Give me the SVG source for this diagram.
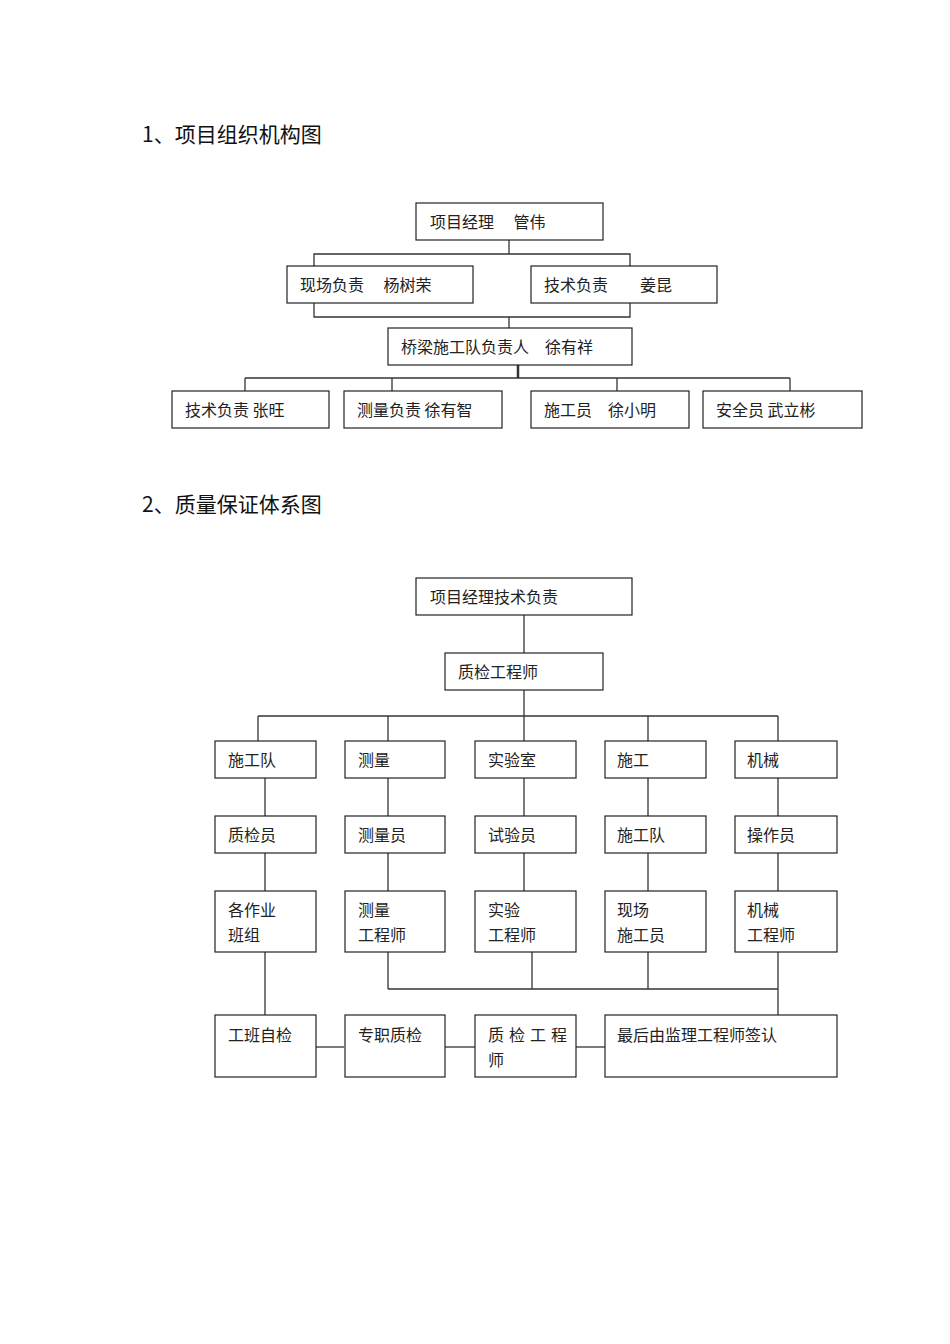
<svg xmlns="http://www.w3.org/2000/svg" width="950" height="1344" viewBox="0 0 950 1344">
<style>
text{font-family:"Noto Sans CJK SC","Liberation Serif",serif;font-size:16px;fill:#222}
.t{font-size:21px;fill:#111}
rect{fill:#fff;stroke:#222;stroke-width:1.2}
.c line,.c polyline{stroke:#333;stroke-width:1.3;fill:none}
</style>
<rect x="0" y="0" width="950" height="1344" style="stroke:none"/>
<text class="t" x="142" y="142">1、项目组织机构图</text>
<text class="t" x="142" y="512">2、质量保证体系图</text>
<g class="c">
<line x1="509" y1="240" x2="509" y2="254"/><polyline points="314,266 314,254 630,254 630,266"/>
<polyline points="314,303 314,317 630,317 630,303"/><line x1="509" y1="317" x2="509" y2="328"/>
<line x1="518" y1="365" x2="518" y2="378" style="stroke-width:2.5"/>
<line x1="245" y1="378" x2="790" y2="378"/>
<line x1="245" y1="378" x2="245" y2="391"/><line x1="392" y1="378" x2="392" y2="391"/><line x1="617" y1="378" x2="617" y2="391"/><line x1="790" y1="378" x2="790" y2="391"/>
<line x1="524" y1="615" x2="524" y2="653"/><line x1="524" y1="690" x2="524" y2="716"/>
<line x1="258" y1="716" x2="778" y2="716"/>
<line x1="258" y1="716" x2="258" y2="741"/><line x1="388" y1="716" x2="388" y2="741"/><line x1="524" y1="716" x2="524" y2="741"/><line x1="648" y1="716" x2="648" y2="741"/><line x1="778" y1="716" x2="778" y2="741"/>
<line x1="265" y1="778" x2="265" y2="816"/><line x1="388" y1="778" x2="388" y2="816"/><line x1="524" y1="778" x2="524" y2="816"/><line x1="648" y1="778" x2="648" y2="816"/><line x1="778" y1="778" x2="778" y2="816"/>
<line x1="265" y1="853" x2="265" y2="891"/><line x1="388" y1="853" x2="388" y2="891"/><line x1="524" y1="853" x2="524" y2="891"/><line x1="648" y1="853" x2="648" y2="891"/><line x1="778" y1="853" x2="778" y2="891"/>
<line x1="265" y1="952" x2="265" y2="1015"/>
<line x1="388" y1="952" x2="388" y2="989"/><line x1="532" y1="952" x2="532" y2="989"/><line x1="648" y1="952" x2="648" y2="989"/>
<line x1="388" y1="989" x2="778" y2="989"/><line x1="778" y1="952" x2="778" y2="1015"/>
<line x1="315" y1="1047" x2="344" y2="1047"/><line x1="445" y1="1047" x2="475" y2="1047"/><line x1="576" y1="1047" x2="605" y2="1047"/>
</g>
<g id="n1"><rect x="416" y="203" width="187" height="37"/><text x="430" y="228">项目经理　 管伟</text></g>
<g id="n2"><rect x="287" y="266" width="186" height="37"/><text x="300" y="291">现场负责　 杨树荣</text></g>
<g id="n3"><rect x="531" y="266" width="186" height="37"/><text x="544" y="291">技术负责　　姜昆</text></g>
<g id="n4"><rect x="388" y="328" width="244" height="37"/><text x="401" y="353">桥梁施工队负责人　徐有祥</text></g>
<g id="n5"><rect x="172" y="391" width="157" height="37"/><text x="185" y="416">技术负责 张旺</text></g>
<g id="n6"><rect x="344" y="391" width="158" height="37"/><text x="357" y="416">测量负责 徐有智</text></g>
<g id="n7"><rect x="531" y="391" width="158" height="37"/><text x="544" y="416">施工员　徐小明</text></g>
<g id="n8"><rect x="703" y="391" width="159" height="37"/><text x="716" y="416">安全员 武立彬</text></g>
<g id="q1"><rect x="416" y="578" width="216" height="37"/><text x="430" y="603">项目经理技术负责</text></g>
<g id="q2"><rect x="445" y="653" width="158" height="37"/><text x="458" y="678">质检工程师</text></g>
<g id="r1a"><rect x="215" y="741" width="101" height="37"/><text x="228" y="766">施工队</text></g>
<g id="r1b"><rect x="345" y="741" width="100" height="37"/><text x="358" y="766">测量</text></g>
<g id="r1c"><rect x="475" y="741" width="101" height="37"/><text x="488" y="766">实验室</text></g>
<g id="r1d"><rect x="605" y="741" width="101" height="37"/><text x="617" y="766">施工</text></g>
<g id="r1e"><rect x="735" y="741" width="102" height="37"/><text x="747" y="766">机械</text></g>
<g id="r2a"><rect x="215" y="816" width="101" height="37"/><text x="228" y="841">质检员</text></g>
<g id="r2b"><rect x="345" y="816" width="100" height="37"/><text x="358" y="841">测量员</text></g>
<g id="r2c"><rect x="475" y="816" width="101" height="37"/><text x="488" y="841">试验员</text></g>
<g id="r2d"><rect x="605" y="816" width="101" height="37"/><text x="617" y="841">施工队</text></g>
<g id="r2e"><rect x="735" y="816" width="102" height="37"/><text x="747" y="841">操作员</text></g>
<g id="r3a"><rect x="215" y="891" width="101" height="61"/><text x="228" y="916">各作业</text><text x="228" y="941">班组</text></g>
<g id="r3b"><rect x="345" y="891" width="100" height="61"/><text x="358" y="916">测量</text><text x="358" y="941">工程师</text></g>
<g id="r3c"><rect x="475" y="891" width="101" height="61"/><text x="488" y="916">实验</text><text x="488" y="941">工程师</text></g>
<g id="r3d"><rect x="605" y="891" width="101" height="61"/><text x="617" y="916">现场</text><text x="617" y="941">施工员</text></g>
<g id="r3e"><rect x="735" y="891" width="102" height="61"/><text x="747" y="916">机械</text><text x="747" y="941">工程师</text></g>
<g id="r4a"><rect x="215" y="1015" width="101" height="62"/><text x="228" y="1041">工班自检</text></g>
<g id="r4b"><rect x="345" y="1015" width="100" height="62"/><text x="358" y="1041">专职质检</text></g>
<g id="r4c"><rect x="475" y="1015" width="101" height="62"/><text x="488" y="1041" letter-spacing="5">质检工程</text><text x="488" y="1066">师</text></g>
<g id="r4d"><rect x="605" y="1015" width="232" height="62"/><text x="617" y="1041">最后由监理工程师签认</text></g>
</svg>
